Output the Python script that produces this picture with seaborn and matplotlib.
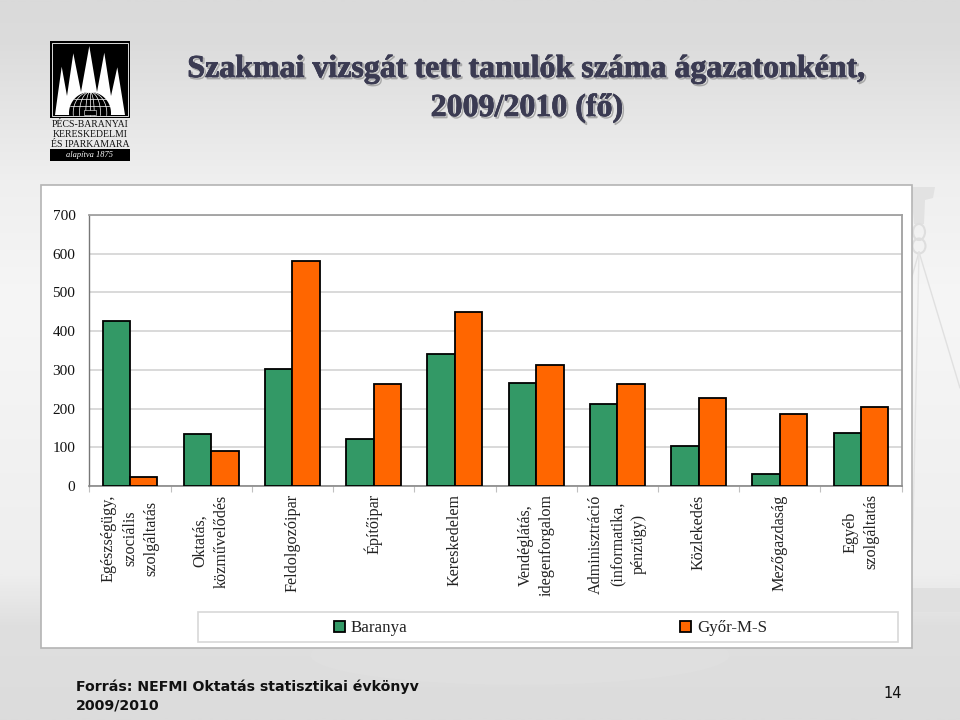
import numpy as np
import pandas as pd
import seaborn as sns
import matplotlib
matplotlib.use("Agg")
import matplotlib.pyplot as plt
import matplotlib.patheffects as pe
from matplotlib.patches import Rectangle, Polygon, Ellipse
from matplotlib.colors import LinearSegmentedColormap

categories = ["Egészségügy,\nszociális\nszolgáltatás", "Oktatás,\nközművelődés", "Feldolgozóipar",
              "Építőipar", "Kereskedelem", "Vendéglátás,\nidegenforgalom",
              "Adminisztráció\n(informatika,\npénzügy)", "Közlekedés", "Mezőgazdaság", "Egyéb\nszolgáltatás"]
baranya = [425, 134, 303, 121, 342, 267, 213, 103, 30, 136]
gyor = [22, 91, 580, 264, 449, 313, 264, 227, 185, 203]
series_names = ["Baranya", "Győr-M-S"]
colors = ["#339966", "#FF6600"]

W, H = 960, 720


def fx(x):
    return x / W


def fy(y):
    return 1 - y / H


df = pd.DataFrame({"cat": categories * 2,
                   "value": baranya + gyor,
                   "series": [series_names[0]] * 10 + [series_names[1]] * 10})

sns.set_theme(style="white")
plt.rcParams["font.family"] = ["Liberation Serif", "DejaVu Serif"]

fig = plt.figure(figsize=(9.6, 7.2), dpi=100)

# background gradient of the slide
bg = fig.add_axes([0, 0, 1, 1], zorder=0)
bg.set_axis_off()
cmap = LinearSegmentedColormap.from_list("slide", [(0, "#dadada"), (0.06, "#dcdcdc"), (0.25, "#efefef"),
                                                   (0.42, "#f6f6f6"), (0.8, "#eeeeee"), (0.87, "#dfdfdf"),
                                                   (1, "#dcdcdc")])
bg.imshow(np.linspace(0, 1, 512).reshape(-1, 1), aspect="auto", cmap=cmap, extent=[0, W, H, 0])
bg.set_xlim(0, W)
bg.set_ylim(H, 0)

# faint decoration on the right edge
bg.add_patch(Polygon([[912, 187], [935, 187], [933, 198], [925, 200], [924, 224], [914, 224], [912, 200]],
                     fc="#e2e2e2", ec="none"))
bg.add_patch(Ellipse((919, 232), 12, 16, fc="none", ec="#dedede", lw=1.5))
bg.add_patch(Ellipse((919, 246), 13, 15, fc="none", ec="#dedede", lw=1.5))
bg.plot([919, 960], [252, 388], color="#e0e0e0", lw=1)
bg.plot([919, 911], [252, 280], color="#e0e0e0", lw=1)
bg.plot([919, 912], [252, 570], color="#e4e4e4", lw=1)
bg.add_patch(Rectangle((911, 588), 49, 24, fc="#e0e0e0", ec="none"))
bg.add_patch(Ellipse((520, 655), 420, 60, fc="#dfdfdf", ec="none", zorder=1))

# white chart panel and legend box
bg.add_patch(Rectangle((41, 184.5), 870.5, 463.5, fc="white", ec="#b4b4b4", lw=1.2, zorder=2))
bg.add_patch(Rectangle((198, 612), 700, 30, fc="white", ec="#d8d8d8", lw=1.2, zorder=3))

ax = fig.add_axes([fx(89.3), fy(486), (901.7 - 89.3) / W, (486 - 215) / H], zorder=3)
ax.set_facecolor("white")
sns.barplot(data=df, x="cat", y="value", hue="series", palette=colors, width=0.675, gap=0,
            edgecolor="black", linewidth=1.3, saturation=1, ax=ax, zorder=3)
ax.set_ylim(0, 700)
ax.set_xlim(-0.5, 9.5)
ax.set_xlabel("")
ax.set_ylabel("")
ax.set_yticks(range(0, 701, 100))
ax.yaxis.grid(True, color="#d0d0d0", lw=1.1)
ax.set_axisbelow(True)
ax.tick_params(axis="y", length=0, labelsize=11, pad=10, labelcolor="#111111")
ax.set_xticks(range(10))
ax.set_xticklabels(categories, rotation=90, fontsize=11.6, va="top", ha="center", ma="center",
                   linespacing=1.45, color="#222222")
ax.tick_params(axis="x", which="major", length=0, pad=6)
ax.set_xticks(np.arange(-0.5, 10, 1), minor=True)
ax.tick_params(axis="x", which="minor", bottom=True, length=4, width=0.8, color="#c0c0c0")
for side in ["top", "right"]:
    ax.spines[side].set_color("#a0a0a0")
    ax.spines[side].set_linewidth(1.3)
ax.spines["bottom"].set_color("#888888")
ax.spines["left"].set_color("#777777")
ax.spines["bottom"].set_linewidth(1.2)
ax.spines["left"].set_linewidth(1)

handles, labels = ax.get_legend_handles_labels()
ax.get_legend().remove()
leg = fig.legend(handles, labels, loc="center", bbox_to_anchor=(fx(550.5), fy(628.5)), ncol=2, frameon=False,
                 fontsize=12.2, handlelength=0.66, handleheight=0.66, handletextpad=0.35, columnspacing=16.1,
                 labelcolor="#222222")
leg.set_zorder(5)

# title
for i, line in enumerate(["Szakmai vizsgát tett tanulók száma ágazatonként,", "2009/2010 (fő)"]):
    fig.text(fx(527), fy(69.5 + 39 * i), line, ha="center", va="center", fontsize=23, fontweight="bold",
             color="#3b3b52", zorder=6,
             path_effects=[pe.SimpleLineShadow(offset=(1.2, -1.2), shadow_color="#999999", alpha=0.8, linewidth=1),
                           pe.Stroke(linewidth=0.5, foreground="#30304a"), pe.Normal()])

# source and page number
fig.text(fx(76), fy(696), "Forrás: NEFMI Oktatás statisztikai évkönyv\n2009/2010", ha="left", va="center",
         fontsize=10.2, fontweight="bold", family="DejaVu Sans", color="#111111", linespacing=1.4, zorder=6)
fig.text(fx(893), fy(693), "14", ha="center", va="center", fontsize=10.5, family="DejaVu Sans", color="#111111",
         zorder=6)

# logo
bg.add_patch(Rectangle((49.5, 40.5), 80, 77.5, fc="black", ec="none", zorder=4))
bg.add_patch(Rectangle((51.5, 42.5), 76, 73.5, fc="black", ec="white", lw=0.6, zorder=4))
spikes = [[55, 115], [61.7, 66.7], [67, 96], [73.3, 53.3], [81, 92], [89.3, 46], [97, 92], [104.3, 52.7],
          [111, 96], [117.3, 67.3], [125, 115]]
bg.add_patch(Polygon(spikes, fc="white", ec="none", zorder=5))
# globe, cut off at the base of the frame
cx, cy, r = 90, 113, 21
ys = np.linspace(cy - r, 115.5, 40)
half = np.sqrt(r ** 2 - (ys - cy) ** 2)
bg.add_patch(Polygon(np.r_[np.c_[cx - half, ys], np.c_[cx + half, ys][::-1]], fc="black", ec="none", zorder=6))
for k in [0.2, 0.5, 0.8]:
    bg.plot(cx - k * half, ys, color="white", lw=0.5, zorder=7)
    bg.plot(cx + k * half, ys, color="white", lw=0.5, zorder=7)
bg.plot([cx, cx], [cy - r, 115.5], color="white", lw=0.5, zorder=7)
for y in [99, 106]:
    d = np.sqrt(r ** 2 - (y - cy) ** 2)
    bg.plot([cx - d, cx + d], [y, y], color="white", lw=0.5, zorder=7)
bg.add_patch(Rectangle((84, 110), 12, 5, fc="black", ec="white", lw=0.4, zorder=8))
for i, line in enumerate(["PÉCS-BARANYAI", "KERESKEDELMI", "ÉS IPARKAMARA"]):
    fig.text(fx(90), fy(124.5 + 10 * i), line, ha="center", va="center", fontsize=7, color="#111111", zorder=6)
bg.add_patch(Rectangle((50, 148.5), 80, 12.5, fc="black", ec="none", zorder=4))
fig.text(fx(90), fy(154.7), "alapítva 1875", ha="center", va="center", fontsize=6, style="italic", color="white",
         zorder=6)

plt.savefig("out.png", dpi=100)
